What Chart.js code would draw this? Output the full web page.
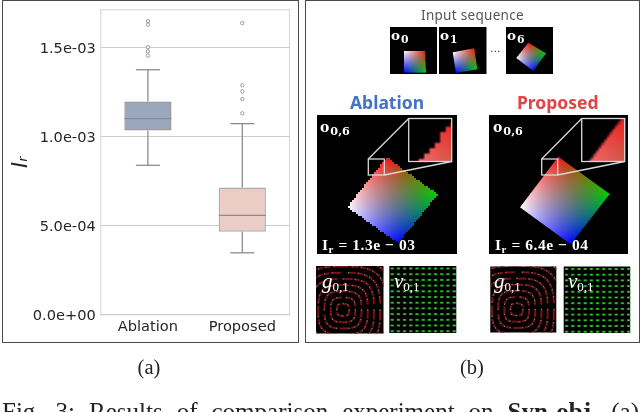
<!DOCTYPE html>
<html><head><meta charset="utf-8">
<script src="https://cdn.jsdelivr.net/npm/chart.js@4"></script>
<style>
html,body{margin:0;padding:0;background:#fff;width:640px;height:412px;overflow:hidden}
.t{position:absolute;white-space:nowrap;line-height:1}
.o{font-family:"DejaVu Serif";font-weight:bold;color:#fff}
.o sub{font-size:.8em;vertical-align:baseline;position:relative;top:.28em;margin-left:1px}
.e{font-family:"Liberation Serif";font-weight:bold;color:#fff;font-size:15.5px;letter-spacing:.55px}
.e sub{font-size:.7em;vertical-align:baseline;position:relative;top:.25em}
.f{font-family:"Liberation Serif";font-style:italic;color:#fff;font-size:21px}
.f sub{font-size:13px;font-style:normal;vertical-align:baseline;position:relative;top:3px}
.frame{position:absolute;border:1.5px solid #4a4a4a;box-sizing:border-box}
.cap{font-family:"Liberation Serif";color:#222;font-size:20.5px;transform:translateX(-50%)}
</style></head><body>
<canvas id="art" width="640" height="412" style="position:absolute;left:0;top:0"></canvas>
<div class="frame" style="left:2px;top:0px;width:297px;height:342.5px"></div>
<div class="frame" style="left:305px;top:0px;width:335px;height:342.5px"></div>
<div style="position:absolute;left:4px;top:3px;width:293px;height:337px"><canvas id="chart" width="293" height="337"></canvas></div>

<div class="t" style="left:421px;top:6px;font:13.5px 'Noto Sans';color:#555;letter-spacing:.3px">Input sequence</div>
<div class="t o" style="left:391px;top:29px;font-size:13.5px">o<sub>0</sub></div>
<div class="t o" style="left:440px;top:29px;font-size:13.5px">o<sub>1</sub></div>
<div class="t o" style="left:507px;top:29px;font-size:13.5px">o<sub>6</sub></div>
<div class="t" style="left:490px;top:42px;font:11px 'DejaVu Sans';color:#333">...</div>
<div class="t" style="left:350px;top:90px;font:bold 17.5px 'Noto Sans';color:#4472c4">Ablation</div>
<div class="t" style="left:517px;top:90px;font:bold 17.5px 'Noto Sans';color:#e04444">Proposed</div>
<div class="t o" style="left:320px;top:120px;font-size:14px">o<sub>0,6</sub></div>
<div class="t o" style="left:493px;top:120px;font-size:14px">o<sub>0,6</sub></div>
<div class="t e" style="left:322px;top:237px">I<sub>r</sub> = 1.3e − 03</div>
<div class="t e" style="left:495px;top:237px">I<sub>r</sub> = 6.4e − 04</div>
<div class="t f" style="left:322px;top:271px">g<sub>0,1</sub></div>
<div class="t f" style="left:394px;top:271px">v<sub>0,1</sub></div>
<div class="t f" style="left:494px;top:271px">g<sub>0,1</sub></div>
<div class="t f" style="left:568px;top:271px">v<sub>0,1</sub></div>
<div class="t cap" style="left:149px;top:357px">(a)</div>
<div class="t cap" style="left:472px;top:357px">(b)</div>
<div style="position:absolute;left:2px;top:398.5px;width:637px;font:25px/1 'Liberation Serif';color:#222;text-align:justify;text-align-last:justify;white-space:normal">Fig. 3: Results of comparison experiment on <b>Syn-obj.</b> (a)</div>

<script>
const categories = ["Ablation", "Proposed"];
const q1 = [1.035e-3, 0.466e-3];
const q3 = [1.198e-3, 0.715e-3];
const medians = [1.102e-3, 0.558e-3];
const whiskerLow = [0.84e-3, 0.348e-3];
const whiskerHigh = [1.377e-3, 1.074e-3];
const outliersAblation = [1.65e-3, 1.63e-3, 1.504e-3, 1.48e-3, 1.457e-3];
const outliersProposed = [1.639e-3, 1.289e-3, 1.255e-3, 1.212e-3, 1.132e-3];
const tickValues = [0, 5e-4, 1e-3, 1.5e-3];
const tickLabels = ["0.0e+00", "5.0e-04", "1.0e-03", "1.5e-03"];
const yMax = 1.714e-3;
const yTitle = "Iᵣ";

const boxParts = {
  id: "boxParts",
  beforeDraw(c) {
    const a = c.chartArea, g = c.ctx;
    g.save(); g.strokeStyle = "#d9d9d9"; g.lineWidth = 1.2;
    g.strokeRect(a.left, a.top, a.right - a.left, a.bottom - a.top); g.restore();
  },
  afterDatasetsDraw(c) {
    const g = c.ctx, x = c.scales.x, y = c.scales.y;
    g.save(); g.lineWidth = 1.3; g.strokeStyle = "#8c8c8c";
    const boxHalf = 23.6, capHalf = 12;
    categories.forEach((_, i) => {
      const px = x.getPixelForValue(i);
      const seg = (x0, y0, x1, y1) => { g.beginPath(); g.moveTo(x0, y0); g.lineTo(x1, y1); g.stroke(); };
      const yq1 = y.getPixelForValue(q1[i]), yq3 = y.getPixelForValue(q3[i]);
      const yl = y.getPixelForValue(whiskerLow[i]), yh = y.getPixelForValue(whiskerHigh[i]);
      const ym = y.getPixelForValue(medians[i]);
      seg(px, yq1, px, yl); seg(px, yq3, px, yh);
      seg(px - capHalf, yl, px + capHalf, yl); seg(px - capHalf, yh, px + capHalf, yh);
      seg(px - boxHalf, ym, px + boxHalf, ym);
    });
    g.restore();
  }
};

new Chart(document.getElementById("chart"), {
  data: {
    labels: categories,
    datasets: [
      { type: "bar", data: q1.map((v, i) => [v, q3[i]]), backgroundColor: ["#9aa7bd", "#ebcdc6"],
        borderColor: ["#9a9a9a", "#adadad"], borderWidth: 1.5, borderSkipped: false,
        barPercentage: 1, categoryPercentage: 0.5 },
      { type: "scatter", data: outliersAblation.map(v => ({ x: categories[0], y: v })), pointRadius: 1.7,
        borderColor: "#9a9a9a", backgroundColor: "#fff", borderWidth: 1 },
      { type: "scatter", data: outliersProposed.map(v => ({ x: categories[1], y: v })), pointRadius: 1.7,
        borderColor: "#9a9a9a", backgroundColor: "#fff", borderWidth: 1 }
    ]
  },
  options: {
    responsive: false, animation: false,
    layout: { padding: { left: 0, right: 7.5, top: 6.8, bottom: 0 } },
    plugins: { legend: { display: false }, tooltip: { enabled: false } },
    scales: {
      x: { type: "category", offset: true, grid: { display: false, drawTicks: false }, border: { display: false },
        ticks: { color: "#262626", font: { family: "DejaVu Sans", size: 14.6 }, padding: 4, maxRotation: 0 },
        afterFit(s) { s.height = 25.3; s.paddingLeft = 0; s.paddingRight = 0; } },
      y: { min: 0, max: yMax,
        afterBuildTicks(s) { s.ticks = tickValues.map(v => ({ value: v })); },
        grid: { color: "#cccccc", lineWidth: 1, drawTicks: false }, border: { display: false },
        ticks: { color: "#262626", font: { family: "DejaVu Sans", size: 14.6, lineHeight: "3px" }, padding: 5,
          callback: v => ["", tickLabels[tickValues.indexOf(v)]] },
        title: { display: true, text: yTitle, color: "#262626", padding: { top: 5, bottom: 0 },
          font: { family: "DejaVu Sans", style: "italic", size: 21 } },
        afterFit(s) { s.width = 96.7; s.paddingTop = 0; s.paddingBottom = 0; } }
    }
  },
  plugins: [boxParts]
});

/* right-hand image panels */
const art = document.getElementById("art").getContext("2d");
const W = [255,255,255], R = [238,22,22], G = [0,214,0], B = [0,0,255];
function paintSquare(x0, y0, w, h, cw, cr, cg, cb, step, blur) {
  art.fillStyle = "#000"; art.fillRect(x0, y0, w, h);
  const ix = Math.floor(x0), iy = Math.floor(y0), iw = Math.ceil(w), ih = Math.ceil(h);
  const im = art.getImageData(ix, iy, iw, ih), d = im.data;
  const solve = (px, py) => {
    let u = .5, v = .5;
    for (let k = 0; k < 6; k++) {
      const fx = (1-u)*(1-v)*cw[0] + u*(1-v)*cr[0] + u*v*cg[0] + (1-u)*v*cb[0] - px;
      const fy = (1-u)*(1-v)*cw[1] + u*(1-v)*cr[1] + u*v*cg[1] + (1-u)*v*cb[1] - py;
      const a = -(1-v)*cw[0] + (1-v)*cr[0] + v*cg[0] - v*cb[0], b = -(1-u)*cw[0] - u*cr[0] + u*cg[0] + (1-u)*cb[0];
      const c = -(1-v)*cw[1] + (1-v)*cr[1] + v*cg[1] - v*cb[1], e = -(1-u)*cw[1] - u*cr[1] + u*cg[1] + (1-u)*cb[1];
      const det = a*e - b*c;
      u -= (e*fx - b*fy)/det; v -= (a*fy - c*fx)/det;
    }
    return [u, v];
  };
  const SS = 3;
  for (let j = 0; j < ih; j++) for (let i = 0; i < iw; i++) {
    let r = 0, g = 0, bl = 0;
    for (let a = 0; a < SS; a++) for (let b = 0; b < SS; b++) {
      const px = ix + i + (a + .5)/SS, py = iy + j + (b + .5)/SS;
      const [u, v] = solve(px, py);
      let inside = u >= 0 && u <= 1 && v >= 0 && v <= 1;
      if (step > 1) {
        const [mu, mv] = solve(Math.floor(px/step)*step + step/2, Math.floor(py/step)*step + step/2);
        inside = mu >= 0 && mu <= 1 && mv >= 0 && mv <= 1;
      }
      if (inside) {
        const cu = Math.min(1, Math.max(0, u)), cv = Math.min(1, Math.max(0, v));
        const c = n => (1-cu)*(1-cv)*W[n] + cu*(1-cv)*R[n] + cu*cv*G[n] + (1-cu)*cv*B[n];
        r += c(0); g += c(1); bl += c(2);
      }
    }
    const k = (j*iw + i)*4; d[k] = r/(SS*SS); d[k+1] = g/(SS*SS); d[k+2] = bl/(SS*SS); d[k+3] = 255;
  }
  art.putImageData(im, ix, iy);
  if (blur) {
    const tmp = document.createElement("canvas"); tmp.width = iw; tmp.height = ih;
    tmp.getContext("2d").putImageData(art.getImageData(ix, iy, iw, ih), 0, 0);
    art.save(); art.beginPath(); art.rect(ix, iy, iw, ih); art.clip();
    art.filter = "blur(" + blur + "px)";
    art.drawImage(tmp, ix, iy);
    art.restore();
  }
}
paintSquare(390,27,47,47,[404,51],[425,51],[426,72.5],[404,72.5],1,0);
paintSquare(439.5,27,47,47,[452.7,52.3],[474.3,48.3],[477.3,69.3],[456,73],1,0);
paintSquare(506,27,47,47,[516.3,58],[528.3,42.7],[546,53.3],[533.3,71],1,0);
paintSquare(317,115,140,138.5,[347.3,207.3],[386.7,157.3],[437.7,194.3],[398.3,243.3],2,0.6);
paintSquare(489,115,139,138.5,[520,207.3],[558.3,156.7],[609.7,194],[570.7,244.3],1,0.5);

function inset(sx, sy, dx) {
  art.imageSmoothingEnabled = true;
  art.drawImage(art.canvas, sx, 159, 16, 16, dx, 118.5, 43, 43);
  art.strokeStyle = "#d8d8d8"; art.lineWidth = 1.3;
  art.strokeRect(sx, 159, 16, 16); art.strokeRect(dx, 118.5, 43, 43);
  art.beginPath(); art.moveTo(sx, 159); art.lineTo(dx, 118.5);
  art.moveTo(sx + 16, 175); art.lineTo(dx + 43, 161.5); art.stroke();
}
inset(368.3, 159, 408.7);
inset(541.7, 159, 581.7);

function swirl(x0, y0, s) {
  art.fillStyle = "#000"; art.fillRect(x0, y0, s, s);
  const cx = x0 + s*0.4, cy = y0 + s*0.65;
  art.save(); art.beginPath(); art.rect(x0, y0, s, s); art.clip();
  for (let ring = 1; ring <= 9; ring++) {
    const rad = ring * 6.2, n = 3 + ring * 5;
    for (let k = 0; k < n; k++) {
      const t = (k/n)*Math.PI*2, pw = 2/3.2;
      const sup = (a) => [Math.sign(Math.cos(a))*Math.pow(Math.abs(Math.cos(a)),pw)*rad, Math.sign(Math.sin(a))*Math.pow(Math.abs(Math.sin(a)),pw)*rad];
      const [ax, ay] = sup(t), [bx, by] = sup(t + 0.7*Math.PI*2/n);
      art.strokeStyle = "#7e1010"; art.lineWidth = 2;
      art.beginPath(); art.moveTo(cx + ax, cy + ay); art.lineTo(cx + bx, cy + by); art.stroke();
      art.fillStyle = "#8d8585"; art.fillRect(cx + ax - .6, cy + ay - .6, 1.2, 1.2);
    }
  }
  art.restore();
}
function dots(x0, y0, s) {
  art.fillStyle = "#000"; art.fillRect(x0, y0, s, s);
  for (let r = 0; r < 12; r++) for (let c = 0; c < 11; c++) {
    const px = x0 + 1.5 + c*6.2, py = y0 + 2.5 + r*5.7;
    art.fillStyle = "#12a012"; art.fillRect(px - .3, py - 1, 3.4, 2);
    art.fillStyle = "#8fbf8f"; art.fillRect(px + .8, py - .5, 1, 1);
  }
}
swirl(316, 266, 67.5); dots(389.3, 266, 67);
swirl(490.3, 266.5, 66); dots(563.7, 266.5, 66.5);
</script>
</body></html>
